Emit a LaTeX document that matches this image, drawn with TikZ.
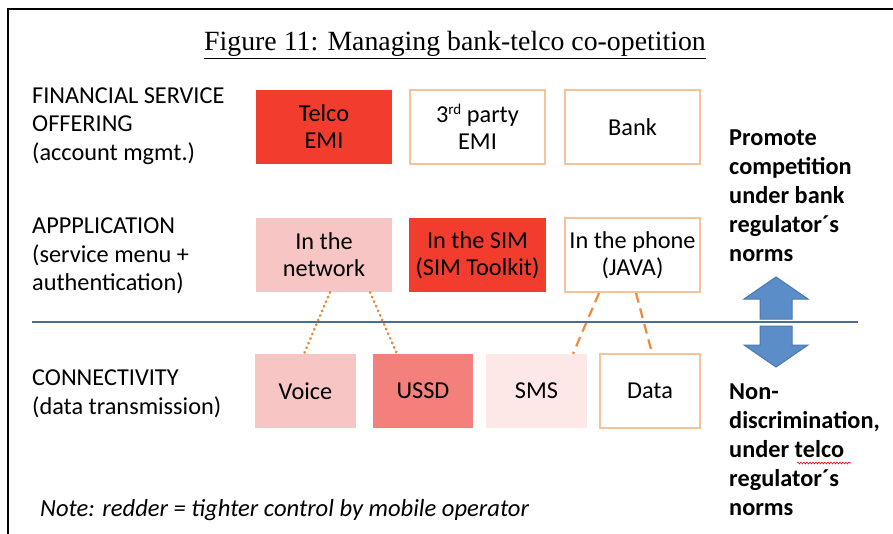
\documentclass[tikz,border=0pt]{standalone}
\usepackage{fontspec}
\setmainfont{Carlito}
\newfontfamily\titlefont{Liberation Serif}
\usetikzlibrary{calc,decorations.pathmorphing}
\definecolor{telred}{HTML}{F23D2E}
\definecolor{lightpink}{HTML}{F7C5C3}
\definecolor{midred}{HTML}{F4807B}
\definecolor{palepink}{HTML}{FDE7E7}
\definecolor{edgeorange}{HTML}{F8C196}
\definecolor{linkorange}{HTML}{EE8A3C}
\definecolor{divider}{HTML}{4A6D96}
\definecolor{arrowfill}{HTML}{5B8EC8}
\definecolor{arrowedge}{HTML}{4A78B0}
\tikzset{
  txt/.style={font=\fontsize{24.3}{28.5}\selectfont, inner sep=0pt},
  boxbase/.style={txt, minimum height=74pt, align=center, text=black, font=\fontsize{24.3}{27}\selectfont},
  filled/.style={boxbase, fill=#1},
  outlined/.style={boxbase, fill=white, draw=edgeorange, line width=2pt},
  sidelabel/.style={txt, align=left, anchor=west},
  regtext/.style={txt, align=left, anchor=west, font=\fontsize{24.3}{29}\selectfont\bfseries},
  dotlink/.style={linkorange, line width=2.6pt, dash pattern=on 0.6pt off 4.4pt, line cap=round},
  dashlink/.style={linkorange, line width=2.2pt, dash pattern=on 10pt off 6pt},
  bigarrow/.style={fill=arrowfill, draw=arrowedge, line width=1pt, line join=miter}
}
\begin{document}
\begin{tikzpicture}[x=1pt, y=-1pt]
\useasboundingbox (0,0) rectangle (893,534);
\fill[white] (0,0) rectangle (893,534);

% frame
\draw[black, line width=2.5pt] (8,534) -- (8,9) -- (893,9);

% title
\node[inner sep=0pt, anchor=base, font=\titlefont\fontsize{27.8}{30}\selectfont] (title) at (455,51)
  {\underline{Figure 11: Managing bank-telco co-opetition}};

% layer labels
\node[sidelabel] (lfin) at (32,126) {FINANCIAL SERVICE\\OFFERING\\(account mgmt.)};
\node[sidelabel] (lapp) at (32,256) {APPPLICATION\\(service menu +\\authentication)};
\node[sidelabel] (lcon) at (32,394) {CONNECTIVITY\\(data transmission)};

% financial service offering
\node[filled=telred, minimum width=136pt] (telco) at (324,127) {Telco\\EMI};
\node[outlined, minimum width=135pt] (third) at (477.5,127) {3\raisebox{0.32em}{\fontsize{15}{15}\selectfont rd} party\\EMI};
\node[outlined, minimum width=135pt] (bank) at (632.5,127) {Bank};

% application
\node[filled=lightpink, minimum width=136pt] (net) at (324,255) {In the\\network};
\node[filled=telred, minimum width=137pt] (sim) at (477.5,255) {In the SIM\\(SIM Toolkit)};
\node[outlined, minimum width=135pt] (phone) at (632.5,255) {In the phone\\(JAVA)};

% connectivity
\node[filled=lightpink, minimum width=101pt] (voice) at (305.5,391) {Voice};
\node[filled=midred, minimum width=100pt] (ussd) at (423,391) {USSD};
\node[filled=palepink, minimum width=101pt] (sms) at (536.5,391) {SMS};
\node[outlined, minimum width=100pt] (data) at (650,391) {Data};

% links between application and connectivity
\draw[dotlink] ([xshift=6pt]net.south) -- ([xshift=-1.5pt]voice.north);
\draw[dotlink] ([xshift=46pt]net.south) -- ([xshift=-26pt]ussd.north);
\draw[dashlink] ([xshift=-33.5pt]phone.south) -- ([xshift=36.5pt]sms.north);
\draw[dashlink] ([xshift=3.5pt]phone.south) -- ([xshift=2pt]data.north);

% divider between layers
\coordinate (divL) at (32,322);
\coordinate (divR) at (858,322);
\draw[divider, line width=2pt] (divL) -- (divR);

% regulator arrows
\draw[bigarrow] (776,277) -- (808,299) -- (792,299) -- (792,319) -- (760,319) -- (760,299) -- (744,299) -- cycle;
\draw[bigarrow] (760,326) -- (792,326) -- (792,345) -- (808,345) -- (776,367) -- (744,345) -- (760,345) -- cycle;

% regulatory notes
\node[regtext] (promote) at (729,196) {Promote\\competition\\under bank\\regulator´s\\norms};
\node[regtext] (nondisc) at (729,450) {Non-\\discrimination,\\under telco\\regulator´s\\norms};
\draw[red, line width=0.6pt, decorate, decoration={snake, amplitude=0.9pt, segment length=3pt}] (797,463) -- (851,463);

% note
\node[txt, anchor=west, font=\fontsize{24.6}{28.5}\selectfont\itshape] (note) at (40,510) {Note: redder = tighter control by mobile operator};
\end{tikzpicture}
\end{document}
